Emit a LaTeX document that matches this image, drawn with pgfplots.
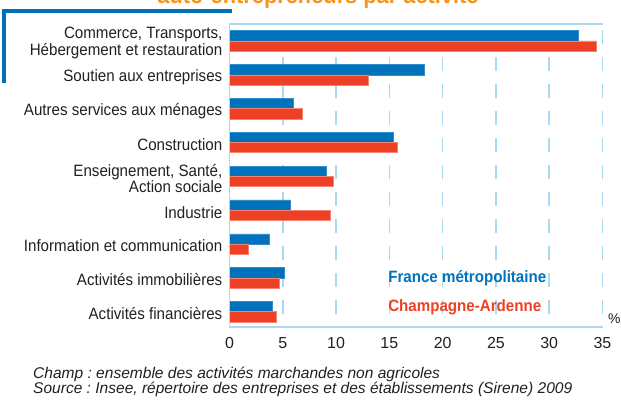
\documentclass[border=0pt]{standalone}
\usepackage{pgfplots}
\pgfplotsset{compat=1.18}
\usepackage{fontspec}
\setmainfont{Liberation Sans}
\newfontfamily\condfont{Liberation Sans}[FakeStretch=0.92]
\definecolor{barblue}{RGB}{0,114,187}
\definecolor{barred}{RGB}{238,64,36}
\definecolor{gridblue}{RGB}{170,218,242}
\definecolor{frameblue}{RGB}{0,112,185}
\definecolor{titleorange}{RGB}{247,148,29}
\definecolor{txt}{RGB}{35,31,32}
\frenchspacing
\begin{document}
\begin{tikzpicture}
\useasboundingbox (0,0) rectangle (621bp,-407bp);
\clip (0,0) rectangle (621bp,-407bp);
\node[anchor=base, font=\condfont\bfseries\fontsize{23.8}{26}\selectfont, text=titleorange, inner sep=0pt] at (318bp,-3.5bp) {auto-entrepreneurs par activité};
\draw[frameblue, line width=4bp] (232bp,-10.5bp) -- (4.3bp,-10.5bp) -- (4.3bp,-83bp);
\begin{axis}[
  at={(229.5bp,-327bp)}, anchor=south west,
  width=373bp, height=303bp, scale only axis,
  xmin=0, xmax=35, ymin=-0.452, ymax=8.502,
  xtick={0,5,...,35}, ytick={0,...,8},
  yticklabels={Activités financières, Activités immobilières, Information et communication, Industrie, {Enseignement, Santé,\\Action sociale}, Construction, Autres services aux ménages, Soutien aux entreprises, {Commerce, Transports,\\Hébergement et restauration}},
  axis line style={draw=none},
  major tick length=0pt,
  xmajorgrids,
  grid style={gridblue, line width=1.5bp, dash pattern=on 14bp off 13bp, dash phase=14bp},
  xbar, bar width=10.2bp,
  yticklabel style={align=right, font=\condfont\fontsize{16.5}{13.5}\selectfont, text=txt, inner sep=0pt, xshift=-7bp, yshift=-2bp},
  xticklabel style={font=\fontsize{16}{18}\selectfont, text=txt, inner sep=0pt, yshift=-10.5bp},
  /pgf/number format/assume math mode=true,
  clip=false,
]
\addplot[fill=barblue, draw=barblue!80!white, line width=0.6bp, bar shift=5.1bp] coordinates {
  (4.0,0) (5.1,1) (3.7,2) (5.7,3) (9.1,4) (15.35,5) (6.0,6) (18.3,7) (32.76,8)};
\addplot[fill=barred, draw=barred!65!white, line width=0.6bp, bar shift=-5.1bp] coordinates {
  (4.4,0) (4.7,1) (1.8,2) (9.5,3) (9.7,4) (15.7,5) (6.8,6) (13.0,7) (34.4,8)};
\draw[gridblue, line width=1.5bp] (rel axis cs:1,1) -- (rel axis cs:0,1) -- (rel axis cs:0,0) -- (rel axis cs:1,0);
\node[anchor=base west, inner sep=0pt, font=\condfont\bfseries\fontsize{16.5}{18}\selectfont, text=barblue] at (axis cs:14.88,0.869) {France métropolitaine};
\node[anchor=base west, inner sep=0pt, font=\condfont\bfseries\fontsize{16.5}{18}\selectfont, text=barred] at (axis cs:14.88,0.0) {Champagne-Ardenne};
\node[anchor=base west, inner sep=0pt, font=\fontsize{14}{16}\selectfont, text=txt, xshift=5.5bp, yshift=4bp] at (rel axis cs:1,0) {\%};
\end{axis}
\node[anchor=base west, inner sep=0pt, font=\itshape\fontsize{15.6}{17}\selectfont, text=txt] at (33bp,-378bp) {Champ : ensemble des activités marchandes non agricoles};
\node[anchor=base west, inner sep=0pt, font=\itshape\fontsize{15.6}{17}\selectfont, text=txt] at (33bp,-393bp) {Source : Insee, répertoire des entreprises et des établissements (Sirene) 2009};
\end{tikzpicture}
\end{document}
